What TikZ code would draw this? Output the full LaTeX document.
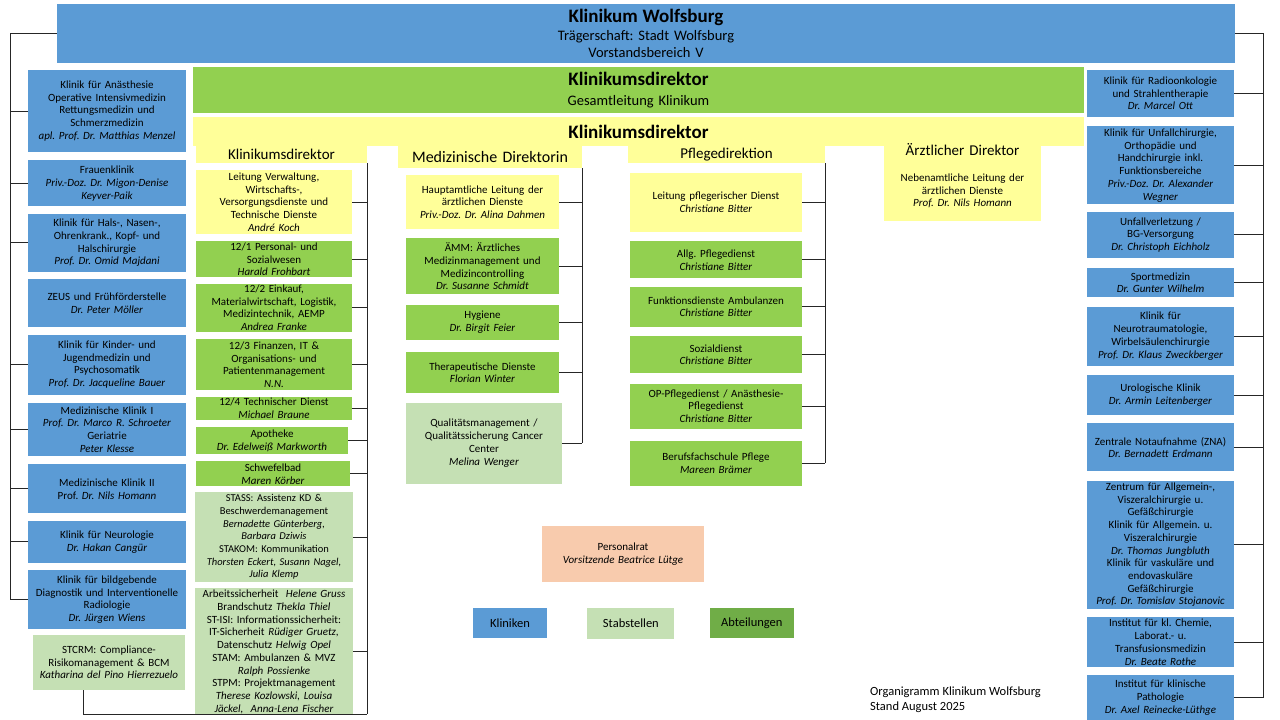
\documentclass[tikz,border=0pt]{standalone}
\usepackage{fontspec}
\setmainfont{Carlito}
\usepackage{tikz}
\usetikzlibrary{positioning}
\definecolor{kblue}{HTML}{5B9BD5}
\definecolor{agreen}{HTML}{92D050}
\definecolor{sgreen}{HTML}{C5E0B4}
\definecolor{lyellow}{HTML}{FFFF99}
\definecolor{prpeach}{HTML}{F8CBAD}
\definecolor{dgreen}{HTML}{70AD47}
\newcommand{\boxfont}{\fontsize{11}{12.7}\selectfont}
\newcommand{\headfont}{\fontsize{15}{17}\selectfont}
\frenchspacing
\tikzset{%
unit/.style={inner xsep=0pt,inner ysep=0pt,align=center,font=\boxfont},
klinik/.style={unit,fill=kblue},
abteilung/.style={unit,fill=agreen},
stabstelle/.style={unit,fill=sgreen},
leitung/.style={unit,fill=lyellow},
legende/.style={font=\fontsize{12.5}{14}\selectfont},
sz/.style 2 args={text width=#1,minimum height=#2},
conn/.style={draw=black!85,line width=0.9pt}
}

\begin{document}
\begin{tikzpicture}[x=1pt,y=-1pt]
  \fill[white] (0,0) rectangle (1280,720);
  \useasboundingbox (0,0) rectangle (1280,720);

  % Kopf
  \node[klinik,sz={1178pt}{59pt},font=\fontsize{14.5}{17}\selectfont] (kw) at (646,33.5)
    {{\fontsize{19}{21}\selectfont\bfseries Klinikum Wolfsburg}\\[1pt]Trägerschaft: Stadt Wolfsburg\\Vorstandsbereich V};
  \node[abteilung,sz={891pt}{46pt},font=\fontsize{14.5}{17}\selectfont] (gl) at (638.5,90)
    {{\fontsize{19}{21}\selectfont\bfseries Klinikumsdirektor}\\[2.5pt]Gesamtleitung Klinikum};
  \node[leitung,sz={891pt}{29pt}] (kd) at (638.5,131.5)
    {\fontsize{19}{21}\selectfont\bfseries Klinikumsdirektor};
  \node[leitung,sz={171pt}{17pt},font=\headfont] (tab1) at (281.5,154.5) {Klinikumsdirektor};
  \node[leitung,sz={184pt}{22pt},font=\fontsize{16}{18}\selectfont] (tab2) at (490,157) {Medizinische Direktorin};
  \node[leitung,sz={197pt}{17pt},font=\headfont] (tab3) at (726.5,154.5) {Pflegedirektion};
  \node[leitung,sz={157pt}{20pt},font=\headfont] (tab4) at (962.5,150) {Ärztlicher Direktor};
  \node[leitung,sz={157pt}{61pt}] (ad) [below=0pt of tab4]
    {Nebenamtliche Leitung der\\ärztlichen Dienste\\\textit{Prof. Dr. Nils Homann}};

  % Kliniken links
  \node[klinik,sz={158pt}{82pt}] (l1) at (107,111)
    {Klinik für Anästhesie\\Operative Intensivmedizin\\Rettungsmedizin und\\Schmerzmedizin\\\textit{apl. Prof. Dr. Matthias Menzel}};
  \node[klinik,sz={158pt}{46pt}] (l2) [below=8pt of l1]
    {Frauenklinik\\\textit{Priv.-Doz. Dr. Migon-Denise}\\\textit{Keyver-Paik}};
  \node[klinik,sz={158pt}{58pt}] (l3) [below=7pt of l2]
    {Klinik für Hals-, Nasen-,\\Ohrenkrank., Kopf- und\\Halschirurgie\\\textit{Prof. Dr. Omid Majdani}};
  \node[klinik,sz={158pt}{48pt}] (l4) [below=7pt of l3]
    {ZEUS und Frühförderstelle\\\textit{Dr. Peter Möller}};
  \node[klinik,sz={158pt}{60pt}] (l5) [below=7pt of l4]
    {Klinik für Kinder- und\\Jugendmedizin und\\Psychosomatik\\\textit{Prof. Dr. Jacqueline Bauer}};
  \node[klinik,sz={158pt}{53pt}] (l6) [below=8pt of l5]
    {Medizinische Klinik I\\\textit{Prof. Dr. Marco R. Schroeter}\\Geriatrie\\\textit{Peter Klesse}};
  \node[klinik,sz={158pt}{49pt}] (l7) [below=8pt of l6]
    {Medizinische Klinik II\\Prof. \textit{Dr. Nils Homann}};
  \node[klinik,sz={158pt}{42pt}] (l8) [below=7pt of l7]
    {Klinik für Neurologie\\\textit{Dr. Hakan Cangür}};
  \node[klinik,sz={158pt}{59pt}] (l9) [below=7pt of l8]
    {Klinik für bildgebende\\Diagnostik und Interventionelle\\Radiologie\\\textit{Dr. Jürgen Wiens}};
  \node[stabstelle,sz={152pt}{55pt}] (stcrm) at (109,662.5)
    {STCRM: Compliance-\\Risikomanagement \& BCM\\\textit{Katharina del Pino Hierrezuelo}};

  % Klinikumsdirektor
  \node[leitung,sz={156pt}{64pt}] (c1a) at (274,202)
    {Leitung Verwaltung,\\Wirtschafts-,\\Versorgungsdienste und\\Technische Dienste\\\textit{André Koch}};
  \node[abteilung,sz={156pt}{36pt}] (c1b) [below=7pt of c1a]
    {12/1 Personal- und\\Sozialwesen\\\textit{Harald Frohbart}};
  \node[abteilung,sz={156pt}{48pt}] (c1c) [below=6pt of c1b]
    {12/2 Einkauf,\\Materialwirtschaft, Logistik,\\Medizintechnik, AEMP\\\textit{Andrea Franke}};
  \node[abteilung,sz={156pt}{51pt}] (c1d) [below=7pt of c1c]
    {12/3 Finanzen, IT \&\\Organisations- und\\Patientenmanagement\\\textit{N.N.}};
  \node[abteilung,sz={156pt}{23pt}] (c1e) [below=6pt of c1d]
    {12/4 Technischer Dienst\\\textit{Michael Braune}};
  \node[abteilung,sz={152pt}{27pt}] (c1f) [below=7pt of c1e.south west,anchor=north west]
    {Apotheke\\\textit{Dr. Edelweiß Markworth}};
  \node[abteilung,sz={154pt}{25pt}] (c1g) [below=7pt of c1f.south west,anchor=north west]
    {Schwefelbad\\\textit{Maren Körber}};
  \node[stabstelle,sz={158pt}{90pt},font=\fontsize{10.5}{12.7}\selectfont] (c1h) at (274,537)
    {STASS: Assistenz KD \&\\Beschwerdemanagement\\\textit{Bernadette Günterberg,}\\\textit{Barbara Dziwis}\\STAKOM: Kommunikation\\\textit{Thorsten Eckert, Susann Nagel,}\\\textit{Julia Klemp}};
  \node[stabstelle,sz={158pt}{127pt}] (c1i) [below=6pt of c1h]
    {Arbeitssicherheit \ \textit{Helene Gruss}\\Brandschutz \textit{Thekla Thiel}\\ST-ISI: Informationssicherheit:\\IT-Sicherheit \textit{Rüdiger Gruetz,}\\Datenschutz \textit{Helwig Opel}\\STAM: Ambulanzen \& MVZ\\\textit{Ralph Possienke}\\STPM: Projektmanagement\\\textit{Therese Kozlowski, Louisa}\\\textit{Jäckel, \ Anna-Lena Fischer}};

  % Medizinische Direktorin
  \node[leitung,sz={153pt}{54pt}] (c2a) at (482.5,202)
    {Hauptamtliche Leitung der\\ärztlichen Dienste\\\textit{Priv.-Doz. Dr. Alina Dahmen}};
  \node[abteilung,sz={153pt}{56pt}] (c2b) [below=9pt of c2a]
    {ÄMM: Ärztliches\\Medizinmanagement und\\Medizincontrolling\\\textit{Dr. Susanne Schmidt}};
  \node[abteilung,sz={153pt}{35pt}] (c2c) [below=10pt of c2b]
    {Hygiene\\\textit{Dr. Birgit Feier}};
  \node[abteilung,sz={153pt}{41pt}] (c2d) [below=12pt of c2c]
    {Therapeutische Dienste\\\textit{Florian Winter}};
  \node[stabstelle,sz={156pt}{81pt}] (c2e) [below=9pt of c2d.south west,anchor=north west]
    {Qualitätsmanagement /\\Qualitätssicherung Cancer\\Center\\\textit{Melina Wenger}};

  % Pflegedirektion
  \node[leitung,sz={172pt}{59pt}] (c3a) at (716,202.5)
    {Leitung pflegerischer Dienst\\\textit{Christiane Bitter}};
  \node[abteilung,sz={172pt}{37pt}] (c3b) [below=9pt of c3a]
    {Allg. Pflegedienst\\\textit{Christiane Bitter}};
  \node[abteilung,sz={172pt}{40pt}] (c3c) [below=8pt of c3b]
    {Funktionsdienste Ambulanzen\\\textit{Christiane Bitter}};
  \node[abteilung,sz={172pt}{37pt}] (c3d) [below=9pt of c3c]
    {Sozialdienst\\\textit{Christiane Bitter}};
  \node[abteilung,sz={172pt}{45pt}] (c3e) [below=10pt of c3d]
    {OP-Pflegedienst / Anästhesie-\\Pflegedienst\\\textit{Christiane Bitter}};
  \node[abteilung,sz={172pt}{45pt}] (c3f) [below=12pt of c3e]
    {Berufsfachschule Pflege\\\textit{Mareen Brämer}};

  % Kliniken rechts
  \node[klinik,sz={147pt}{47pt}] (r1) at (1160.5,93.5)
    {Klinik für Radioonkologie\\und Strahlentherapie\\\textit{Dr. Marcel Ott}};
  \node[klinik,sz={147pt}{78pt}] (r2) [below=9pt of r1]
    {Klinik für Unfallchirurgie,\\Orthopädie und\\Handchirurgie inkl.\\Funktionsbereiche\\\textit{Priv.-Doz. Dr. Alexander}\\\textit{Wegner}};
  \node[klinik,sz={147pt}{46pt}] (r3) [below=7pt of r2]
    {Unfallverletzung /\\BG-Versorgung\\\textit{Dr. Christoph Eichholz}};
  \node[klinik,sz={147pt}{29pt}] (r4) [below=10pt of r3]
    {Sportmedizin\\\textit{Dr. Gunter Wilhelm}};
  \node[klinik,sz={147pt}{59pt}] (r5) [below=9pt of r4]
    {Klinik für\\Neurotraumatologie,\\Wirbelsäulenchirurgie\\\textit{Prof. Dr. Klaus Zweckberger}};
  \node[klinik,sz={147pt}{40pt}] (r6) [below=9pt of r5]
    {Urologische Klinik\\\textit{Dr. Armin Leitenberger}};
  \node[klinik,sz={147pt}{48pt}] (r7) [below=8pt of r6]
    {Zentrale Notaufnahme (ZNA)\\\textit{Dr. Bernadett Erdmann}};
  \node[klinik,sz={147pt}{128pt}] (r8) [below=9pt of r7]
    {Zentrum für Allgemein-,\\Viszeralchirurgie u.\\Gefäßchirurgie\\Klinik für Allgemein. u.\\Viszeralchirurgie\\\textit{Dr. Thomas Jungbluth}\\Klinik für vaskuläre und\\endovaskuläre\\Gefäßchirurgie\\\textit{Prof. Dr. Tomislav Stojanovic}};
  \node[klinik,sz={147pt}{50pt}] (r9) [below=8pt of r8]
    {Institut für kl. Chemie,\\Laborat.- u.\\Transfusionsmedizin\\\textit{Dr. Beate Rothe}};
  \node[klinik,sz={147pt}{46pt}] (r10) [below=7pt of r9]
    {Institut für klinische\\Pathologie\\\textit{Dr. Axel Reinecke-Lüthge}};

  % Personalrat, Legende
  \node[unit,fill=prpeach,sz={162pt}{56pt}] (pr) at (623,554)
    {Personalrat\\\textit{Vorsitzende Beatrice Lütge}};
  \node[klinik,legende,sz={74pt}{30pt}] (kl) at (510,623) {Kliniken};
  \node[stabstelle,legende,sz={87pt}{31pt}] (st) [right=40pt of kl] {Stabstellen};
  \node[unit,legende,fill=dgreen,sz={84pt}{30pt}] (ab) [right=35pt of st] {Abteilungen};
  \node[anchor=north west,align=left,inner sep=0pt,font=\fontsize{12.5}{15}\selectfont] (stand) at (870,687)
    {Organigramm Klinikum Wolfsburg\\Stand August 2025};

  % Linien
  \coordinate (lb) at (l9.west -| 10,0);
  \coordinate (rb) at (r10.east -| 1263,0);
  \coordinate (c1bot) at (tab1.south east |- 0,714);
  \coordinate (c2bot) at (tab2.south east |- 0,443);
  \coordinate (c3bot) at (tab3.south east |- 0,463);

  \path[conn] (kw.west) -| (lb)
              (kw.east) -| (rb)
              (tab1.south east) -- (c1bot)
              (tab2.south east) -- (c2bot)
              (tab3.south east) -- (c3bot)
              ([xshift=-26pt]stcrm.south) |- (c1bot);

  \path[conn] (l1.west) edge (l1.west -| lb)
              (l2.west) edge (l2.west -| lb)
              (l3.west) edge (l3.west -| lb)
              (l5.west) edge (l5.west -| lb)
              (l6.west) edge (l6.west -| lb)
              (l7.west) edge (l7.west -| lb)
              (l8.west) edge (l8.west -| lb)
              (l9.west) edge (l9.west -| lb);

  \path[conn] (r1.east) edge (r1.east -| rb)
              (r2.east) edge (r2.east -| rb)
              (r3.east) edge (r3.east -| rb)
              (r4.east) edge (r4.east -| rb)
              (r5.east) edge (r5.east -| rb)
              (r6.east) edge (r6.east -| rb)
              (r7.east) edge (r7.east -| rb)
              (r8.east) edge (r8.east -| rb)
              (r9.east) edge (r9.east -| rb)
              (r10.east) edge (r10.east -| rb);

  \path[conn] (c1a.east) edge (c1a.east -| c1bot)
              (c1b.east) edge (c1b.east -| c1bot)
              (c1c.east) edge (c1c.east -| c1bot)
              (c1d.east) edge (c1d.east -| c1bot)
              (c1e.east) edge (c1e.east -| c1bot)
              (c1f.east) edge (c1f.east -| c1bot)
              (c1g.east) edge (c1g.east -| c1bot)
              (c1h.east) edge (c1h.east -| c1bot)
              (c1i.east) edge (c1i.east -| c1bot);

  \path[conn] (c2a.east) edge (c2a.east -| c2bot)
              (c2b.east) edge (c2b.east -| c2bot)
              (c2c.east) edge (c2c.east -| c2bot)
              (c2d.east) edge (c2d.east -| c2bot)
              (c2e.east) edge (c2e.east -| c2bot);

  \path[conn] (c3a.east) edge (c3a.east -| c3bot)
              (c3b.east) edge (c3b.east -| c3bot)
              (c3c.east) edge (c3c.east -| c3bot)
              (c3d.east) edge (c3d.east -| c3bot)
              (c3e.east) edge (c3e.east -| c3bot)
              (c3f.east) edge (c3f.east -| c3bot);

\end{tikzpicture}
\end{document}
